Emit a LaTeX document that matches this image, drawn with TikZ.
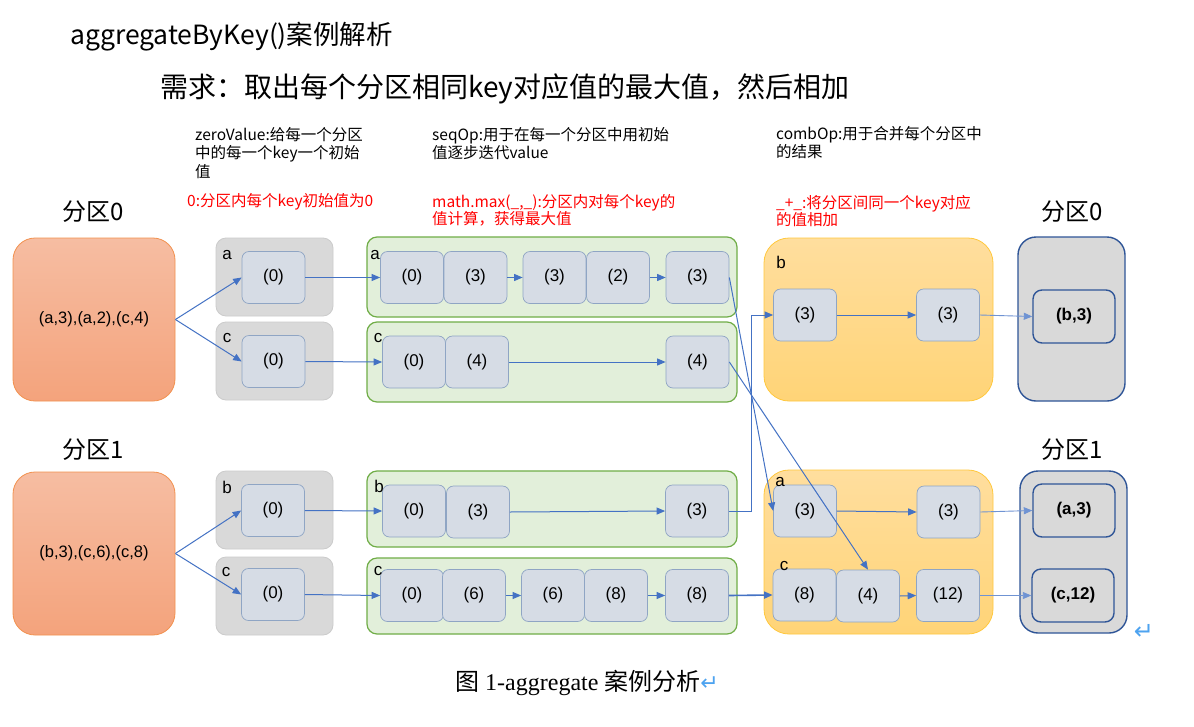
\documentclass[tikz,border=0pt]{standalone}
\usepackage{fontspec}
\setmainfont{Liberation Sans}
\newfontfamily\cjk{Noto Sans CJK SC}
\newfontfamily\capserif{Liberation Serif}
\newfontfamily\symf{DejaVu Sans}
\usetikzlibrary{arrows.meta}
\definecolor{orgtop}{HTML}{F6BDA2}
\definecolor{orgbot}{HTML}{F4A37C}
\definecolor{orgline}{HTML}{F2914F}
\definecolor{ylwtop}{HTML}{FFDE9E}
\definecolor{ylwbot}{HTML}{FFD477}
\definecolor{ylwline}{HTML}{FFC83D}
\definecolor{grayfill}{HTML}{D9D9D9}
\definecolor{grayline}{HTML}{CBCBCB}
\definecolor{grnfill}{HTML}{E2EFDA}
\definecolor{grnline}{HTML}{70AD47}
\definecolor{infill}{HTML}{D6DCE5}
\definecolor{inline}{HTML}{8FA5C4}
\definecolor{resline}{HTML}{2F5597}
\definecolor{arc}{HTML}{4472C4}
\definecolor{arclight}{HTML}{6F93D3}
\definecolor{retblue}{HTML}{4DA3F0}
\newcommand\myfs[2]{\fontsize{#1}{#2}\selectfont}
\begin{document}
\begin{tikzpicture}[x=1pt,y=-1pt,
  partbox/.style={draw=orgline, line width=0.8pt, top color=orgtop, bottom color=orgbot, rounded corners=22pt, minimum width=162pt, minimum height=163pt, inner sep=0pt, font=\myfs{16.5}{20}},
  zerobox/.style={draw=grayline, line width=0.8pt, fill=grayfill, rounded corners=10pt, minimum width=117pt, minimum height=78pt, inner sep=0pt},
  seqbox/.style={draw=grnline, line width=1.2pt, fill=grnfill, rounded corners=10pt, minimum width=370pt, inner sep=0pt},
  combbox/.style={draw=ylwline, line width=0.8pt, top color=ylwtop, bottom color=ylwbot, rounded corners=25pt, minimum width=229pt, inner sep=0pt},
  resgroup/.style={draw=resline, line width=1.4pt, fill=grayfill, rounded corners=18pt, minimum width=107pt, inner sep=0pt},
  inbox/.style={draw=inline, line width=0.7pt, fill=infill, rounded corners=7pt, minimum width=63pt, minimum height=52pt, inner sep=0pt, font=\myfs{17}{20}},
  resbox/.style={draw=resline, line width=1.4pt, fill=grayfill, rounded corners=9pt, minimum width=82pt, minimum height=53pt, inner sep=0pt, font=\bfseries\myfs{17}{20}},
  keylbl/.style={inner sep=0pt, font=\myfs{17}{20}},
  partlbl/.style={inner sep=0pt, font=\cjk\myfs{24}{28}},
  note/.style={anchor=north west, inner sep=0pt, align=left, font=\cjk\myfs{15.5}{18.5}},
  rednote/.style={note, text=red, font=\cjk\myfs{15.5}{17.5}},
  arr/.style={-{Triangle[length=8.5pt,width=7pt]}, draw=arc, line width=1pt},
  arrl/.style={-{Triangle[length=8.5pt,width=7pt]}, draw=arclight, line width=0.9pt}
]
\useasboundingbox (0,0) rectangle (1194,726);
\fill[white] (0,0) rectangle (1194,726);

% titles
\node[anchor=west, inner sep=0pt, font=\cjk\myfs{26.5}{30}] (title) at (70,37) {aggregateByKey()案例解析};
\node[anchor=west, inner sep=0pt, font=\cjk\myfs{28}{32}] (req) at (160,89) {需求：取出每个分区相同key对应值的最大值，然后相加};

% column notes
\node[note] (zvnote) at (195,127) {zeroValue:给每一个分区\\中的每一个key一个初始\\值};
\node[rednote, anchor=west] (zvred) at (187,202) {0:分区内每个key初始值为0};
\node[note] (seqnote) at (432,127) {seqOp:用于在每一个分区中用初始\\值逐步迭代value};
\node[rednote] (seqred) at (432,194) {math.max(\_,\_):分区内对每个key的\\值计算，获得最大值};
\node[note] (combnote) at (776,126) {combOp:用于合并每个分区中\\的结果};
\node[rednote] (combred) at (776,195) {\_+\_:将分区间同一个key对应\\的值相加};

% partition labels
\node[partlbl] (lp0) at (93,212) {分区0};
\node[partlbl] (rp0) at (1072,212) {分区0};
\node[partlbl] (lp1) at (93,450) {分区1};
\node[partlbl] (rp1) at (1072,450) {分区1};

% partition data
\node[partbox] (P0) at (94,319.5) {(a,3),(a,2),(c,4)};
\node[partbox] (P1) at (94,553.5) {(b,3),(c,6),(c,8)};

% zeroValue groups
\node[zerobox] (ZA) at (274.5,277) {};
\node[zerobox] (ZC) at (274.5,361) {};
\node[zerobox] (ZB) at (274.5,510) {};
\node[zerobox] (ZC2) at (274.5,596) {};
\node[inbox] (za) at (273.5,277.5) {(0)};
\node[inbox] (zc) at (273.5,361.5) {(0)};
\node[inbox] (zb) at (273,510.5) {(0)};
\node[inbox] (zc2) at (273,594.5) {(0)};
\node[keylbl] (lza) at (227,255) {a};
\node[keylbl] (lzc) at (227,338) {c};
\node[keylbl] (lzb) at (227,487) {b};
\node[keylbl] (lzc2) at (226,572) {c};

% seqOp groups
\node[seqbox, minimum height=80pt] (GA) at (552,277) {};
\node[seqbox, minimum height=80pt] (GC) at (552,362) {};
\node[seqbox, minimum height=76pt] (GB) at (552,509) {};
\node[seqbox, minimum height=76pt] (GC2) at (552,596) {};
\node[inbox] (a1) at (412,277.5) {(0)};
\node[inbox] (a2) at (475.5,277.5) {(3)};
\node[inbox] (a3) at (554.5,277.5) {(3)};
\node[inbox] (a4) at (618,277.5) {(2)};
\node[inbox] (a5) at (697.5,277.5) {(3)};
\node[inbox] (c1) at (414,362) {(0)};
\node[inbox] (c2) at (477,362) {(4)};
\node[inbox] (c5) at (697.5,362) {(4)};
\node[inbox] (b1) at (414,511) {(0)};
\node[inbox] (b2) at (478,512) {(3)};
\node[inbox] (b5) at (697,511) {(3)};
\node[inbox] (d1) at (412,595.5) {(0)};
\node[inbox] (d2) at (474,595.5) {(6)};
\node[inbox] (d3) at (553,595.5) {(6)};
\node[inbox] (d4) at (616,595.5) {(8)};
\node[inbox] (d5) at (697,595.5) {(8)};
\node[keylbl] (lga) at (375,255) {a};
\node[keylbl] (lgc) at (378,338) {c};
\node[keylbl] (lgb) at (379,486) {b};
\node[keylbl] (lgc2) at (378,571) {c};

% combOp groups
\node[combbox, minimum height=163pt] (YB) at (878.5,319.5) {};
\node[combbox, minimum height=164pt] (YAC) at (878.5,552) {};
\node[inbox] (yb1) at (805,315) {(3)};
\node[inbox] (yb2) at (948,315) {(3)};
\node[inbox] (ya1) at (805,511) {(3)};
\node[inbox] (ya2) at (948.5,512) {(3)};
\node[inbox] (yc1) at (804.5,595) {(8)};
\node[inbox] (yc2) at (868,596) {(4)};
\node[inbox] (yc3) at (948,595.5) {(12)};
\node[keylbl] (lyb) at (781,262) {b};
\node[keylbl] (lya) at (780,482) {a};
\node[keylbl] (lyc) at (784,566) {c};

% results
\node[resgroup, minimum height=164pt] (R0) at (1071.5,319) {};
\node[resgroup, minimum height=162pt] (R1) at (1073.5,552) {};
\node[resbox] (r0) at (1074,316.5) {(b,3)};
\node[resbox] (r1a) at (1074,510.5) {(a,3)};
\node[resbox] (r1c) at (1073,595.5) {(c,12)};

% connectors
\draw[arr] (P0.east) -- (za.west);
\draw[arr] (P0.east) -- (zc.west);
\draw[arr] (P1.east) -- (zb.west);
\draw[arr] (P1.east) -- (zc2.west);
\draw[arr] (za.east) -- (a1.west);
\draw[arr] (zc.east) -- (c1.west);
\draw[arr] (zb.east) -- (b1.west);
\draw[arr] (zc2.east) -- (d1.west);
\draw[arr] (a2.east) -- (a3.west);
\draw[arr] (a4.east) -- (a5.west);
\draw[arr] (c2.east) -- (c5.west);
\draw[arr] (b2.east) -- (b5.west);
\draw[arr] (d2.east) -- (d3.west);
\draw[arr] (d4.east) -- (d5.west);
\draw[arr] (a5.east) -- (ya1.west);
\draw[arr] (c5.east) -- (yc2.north);
\draw[arr] (b5.east) -- ++(23,0) |- (yb1.west);
\draw[arr, line width=1.6pt] (d5.east) -- (yc1.west);
\draw[arr] (yb1.east) -- (yb2.west);
\draw[arr] (ya1.east) -- (ya2.west);
\draw[arr] (yc2.east) -- (yc3.west);
\draw[arrl] (yb2.east) -- (r0.west);
\draw[arrl] (ya2.east) -- (r1a.west);
\draw[arrl] (yc3.east) -- (r1c.west);

% return mark and caption
\node[inner sep=0pt, text=retblue, font=\symf\myfs{24}{26}] (ret) at (1144,632) {↵};
\node[anchor=west, inner sep=0pt, font=\capserif\myfs{24}{28}] (caption) at (455,683) {{\cjk 图} 1-aggregate {\cjk 案例分析}{\symf\color{retblue}\myfs{22}{24}↵}};
\end{tikzpicture}
\end{document}
